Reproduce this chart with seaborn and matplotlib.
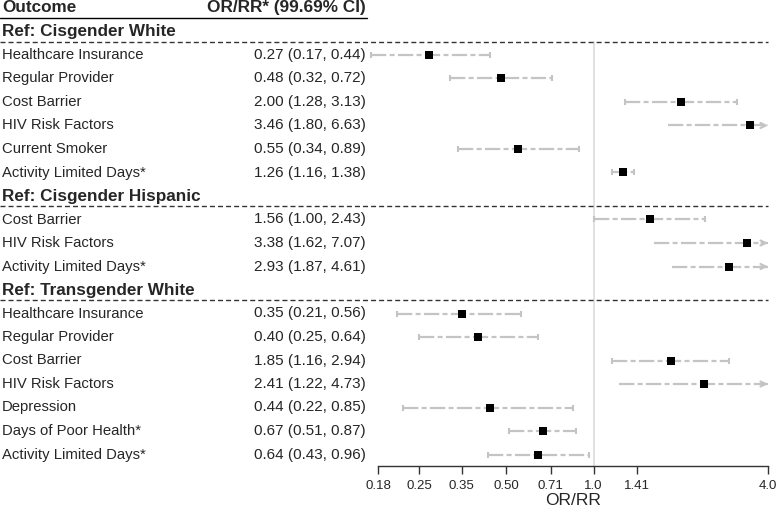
import matplotlib
matplotlib.use("Agg")
import matplotlib.pyplot as plt
import seaborn as sns
import numpy as np
import pandas as pd

# ---- data ----
groups = ["Ref: Cisgender White", "Ref: Cisgender Hispanic", "Ref: Transgender White"]
outcomes_white = ["Healthcare Insurance", "Regular Provider", "Cost Barrier", "HIV Risk Factors",
                  "Current Smoker", "Activity Limited Days*"]
est_white = [0.27, 0.48, 2.00, 3.46, 0.55, 1.26]
lo_white = [0.17, 0.32, 1.28, 1.80, 0.34, 1.16]
hi_white = [0.44, 0.72, 3.13, 6.63, 0.89, 1.38]

outcomes_hisp = ["Cost Barrier", "HIV Risk Factors", "Activity Limited Days*"]
est_hisp = [1.56, 3.38, 2.93]
lo_hisp = [1.00, 1.62, 1.87]
hi_hisp = [2.43, 7.07, 4.61]

outcomes_trans = ["Healthcare Insurance", "Regular Provider", "Cost Barrier", "HIV Risk Factors",
                  "Depression", "Days of Poor Health*", "Activity Limited Days*"]
est_trans = [0.35, 0.40, 1.85, 2.41, 0.44, 0.67, 0.64]
lo_trans = [0.21, 0.25, 1.16, 1.22, 0.22, 0.51, 0.43]
hi_trans = [0.56, 0.64, 2.94, 4.73, 0.85, 0.87, 0.96]

tick_values = [0.18, 0.25, 0.35, 0.50, 0.71, 1.0, 1.41, 4.0]
tick_labels = ["0.18", "0.25", "0.35", "0.50", "0.71", "1.0", "1.41", "4.0"]
x_min, x_max = 0.18, 4.0

# ---- build table ----
rows = []
group_rows = []
r = 1
for g, outs, es, ls, hs in [(groups[0], outcomes_white, est_white, lo_white, hi_white),
                            (groups[1], outcomes_hisp, est_hisp, lo_hisp, hi_hisp),
                            (groups[2], outcomes_trans, est_trans, lo_trans, hi_trans)]:
    group_rows.append((g, r))
    r += 1
    for o, e, l, h in zip(outs, es, ls, hs):
        rows.append(dict(row=r, outcome=o, est=e, lo=l, hi=h))
        r += 1
df = pd.DataFrame(rows)

sns.set_style("white")
plt.rcParams['font.family'] = ['Liberation Sans', 'DejaVu Sans']
plt.rcParams['lines.scale_dashes'] = False

W, H = 777, 512
fig = plt.figure(figsize=(W / 100, H / 100), dpi=100)

# axes geometry in pixels
ax_left, ax_right = 378, 768
axis_y = 466
row0_y, row_h = 8, 23.5
r_bottom = (axis_y - row0_y) / row_h
r_top = (0 - row0_y) / row_h
ax = fig.add_axes([ax_left / W, (H - axis_y) / H, (ax_right - ax_left) / W, axis_y / H])
ax.set_xscale("log")
ax.set_xlim(x_min, x_max)
ax.set_ylim(r_bottom, r_top)
for s in ["top", "left", "right"]:
    ax.spines[s].set_visible(False)
ax.spines["bottom"].set_color("#333333")
ax.spines["bottom"].set_linewidth(1.0)

gray = "#c4c4c4"
off = 0.43

# reference line at 1
ax.plot([1, 1], [group_rows[0][1] + off, r_bottom], color="#dcdcdc", lw=1.2, zorder=1, clip_on=False)

# CIs
for _, rw in df.iterrows():
    hi = min(rw.hi, x_max)
    ax.plot([rw.lo, hi], [rw.row, rw.row], color=gray, lw=1.6, zorder=2,
            dashes=(11, 2.4, 3.6, 2.4), clip_on=False, dash_capstyle="butt")
    if rw.hi > x_max:
        ax.annotate("", xy=(x_max, rw.row), xytext=(x_max * 0.95, rw.row),
                    arrowprops=dict(arrowstyle="->", color=gray, lw=1.6,
                                    shrinkA=0, shrinkB=0, mutation_scale=9),
                    annotation_clip=False, zorder=2)
    else:
        ax.plot([rw.lo, hi], [rw.row, rw.row], linestyle="none", marker="|",
                ms=5, mew=1.5, color=gray, zorder=2, clip_on=False)

sns.scatterplot(data=df, x="est", y="row", marker="s", s=40, color="black",
                edgecolor="black", linewidth=0, ax=ax, zorder=3, clip_on=False, legend=False)

ax.set_xticks(tick_values)
ax.set_xticklabels(tick_labels, fontsize=9.5)
ax.xaxis.set_minor_locator(matplotlib.ticker.NullLocator())
ax.tick_params(axis="x", direction="out", length=6, width=1, color="#333333", pad=4, bottom=True)
ax.set_yticks([])
ax.set_xlabel("OR/RR", fontsize=12.5, labelpad=1)
ax.set_ylabel("")

# text columns (x in figure px, y in data rows)
tr = matplotlib.transforms.blended_transform_factory(fig.transFigure, ax.transData)
lab_x = 2 / W
val_x = 366 / W
ax.text(lab_x, 0, "Outcome", transform=tr, fontsize=12.3, fontweight="bold", va="center", ha="left")
ax.text(val_x, 0, "OR/RR* (99.69% CI)", transform=tr, fontsize=12.4, fontweight="bold",
        va="center", ha="right")
ax.plot([0, 367 / W], [0.42, 0.42], transform=tr, color="black", lw=1, clip_on=False)

for g, gr in group_rows:
    ax.text(lab_x, gr, g, transform=tr, fontsize=12.3, fontweight="bold", va="center", ha="left")
    ax.plot([0, 768 / W], [gr + off, gr + off], transform=tr, color="#333333", lw=1,
            dashes=(3.6, 2.2), clip_on=False)

for _, rw in df.iterrows():
    ax.text(lab_x, rw.row, rw.outcome, transform=tr, fontsize=10.7, va="center", ha="left")
    ax.text(val_x, rw.row, f"{rw.est:.2f} ({rw.lo:.2f}, {rw.hi:.2f})", transform=tr,
            fontsize=11, va="center", ha="right")

fig.savefig("out.png", dpi=100)
